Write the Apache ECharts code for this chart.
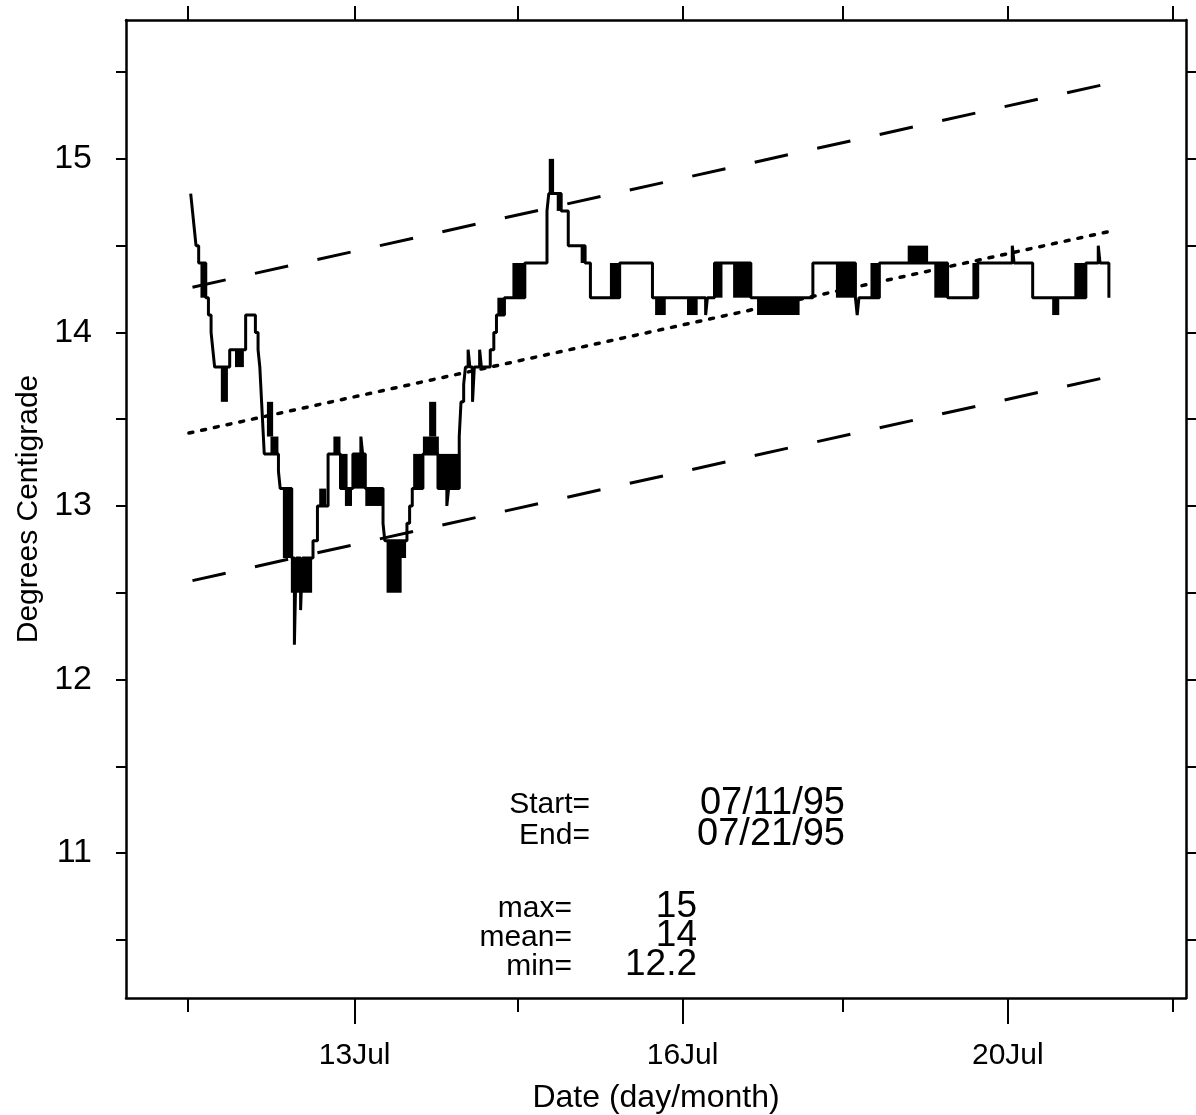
<!DOCTYPE html>
<html>
<head>
<meta charset="utf-8">
<script src="https://cdn.jsdelivr.net/npm/echarts@6/dist/echarts.min.js"></script>
<style>
html,body{margin:0;padding:0;background:#fff;}
#chart{width:1196px;height:1115px;}
</style>
</head>
<body>
<div id="chart"></div>
<script>
// x values: day of July 1995 (decimal), y values: degrees Centigrade
const tempSteps = [
  [11.03,14.8],[11.05,14.7],[11.07,14.6],[11.09,14.5],[11.12,14.4],[11.20,14.2],[11.23,14.1],[11.26,14.0],
  [11.28,13.9],[11.30,13.8],[11.47,13.9],[11.65,14.1],[11.76,14.0],[11.79,13.9],[11.81,13.8],[11.82,13.7],
  [11.83,13.6],[11.84,13.5],[11.85,13.4],[11.86,13.3],[12.02,13.2],[12.04,13.1],[12.17,12.7],[12.20,12.2],
  [12.22,12.7],[12.27,12.4],[12.29,12.7],[12.41,12.8],[12.46,13.0],[12.58,13.3],[12.72,13.1],[12.86,13.3],
  [12.95,13.4],[12.97,13.3],[13.00,13.1],[13.20,12.9],[13.22,12.8],[13.47,12.9],[13.50,13.0],[13.53,13.1],
  [13.65,13.3],[13.82,13.1],[13.92,13.0],[13.94,13.1],[14.06,13.4],[14.08,13.6],[14.11,13.7],[14.13,13.8],
  [14.16,13.9],[14.18,13.8],[14.21,13.6],[14.23,13.8],[14.29,13.9],[14.31,13.8],[14.41,13.9],[14.45,14.0],
  [14.48,14.1],[14.57,14.2],[14.80,14.4],[15.05,14.7],[15.07,14.8],[15.21,14.7],[15.29,14.5],[15.48,14.4],
  [15.54,14.2],[15.87,14.4],[16.24,14.2],[16.84,14.1],[16.86,14.2],[16.94,14.4],[17.35,14.2],[18.05,14.4],
  [18.53,14.2],[18.55,14.1],[18.57,14.2],[18.80,14.4],[19.57,14.2],[19.91,14.4],[20.30,14.5],[20.32,14.4],
  [20.53,14.2],[21.13,14.4],[21.27,14.5],[21.29,14.4],[21.39,14.2]
];
// rapid oscillation bands: [fromDay, toDay, low, high]
const oscBands = [
  [11.14,11.20,14.2,14.4],[11.37,11.45,13.6,13.8],[11.53,11.63,13.8,13.9],[11.89,11.96,13.4,13.6],
  [11.93,12.02,13.3,13.4],[12.07,12.17,12.7,13.1],[12.16,12.40,12.5,12.7],[12.48,12.56,13.0,13.1],
  [12.64,12.72,13.3,13.4],[12.72,12.80,13.1,13.3],[12.77,12.85,13.0,13.1],[12.86,13.00,13.1,13.3],
  [13.00,13.20,13.0,13.1],[13.24,13.41,12.5,12.8],[13.31,13.46,12.7,12.8],[13.54,13.64,13.1,13.3],
  [13.65,13.83,13.3,13.4],[13.72,13.80,13.4,13.6],[13.83,14.07,13.1,13.3],[14.49,14.57,14.1,14.2],
  [14.66,14.80,14.2,14.4],[15.07,15.13,14.8,15.0],[15.16,15.22,14.7,14.8],[15.43,15.48,14.4,14.5],
  [15.76,15.87,14.2,14.4],[16.27,16.39,14.1,14.2],[16.63,16.75,14.1,14.2],[16.94,17.03,14.2,14.4],
  [17.15,17.35,14.2,14.4],[17.42,17.90,14.1,14.2],[18.31,18.53,14.2,14.4],[18.70,18.80,14.2,14.4],
  [19.12,19.35,14.4,14.5],[19.42,19.57,14.2,14.4],[19.85,19.91,14.2,14.4],[20.75,20.83,14.1,14.2],
  [21.00,21.13,14.2,14.4]
];
const trendMid = [[11.01,13.42],[21.38,14.58]];
const trendUpper = [[11.05,14.26],[21.35,15.43]];
const trendLower = [[11.05,12.57],[21.35,13.74]];

const xTickDays = [11.0,12.88,14.72,16.58,18.39,20.25,22.11];
const xLabelDays = [12.88,16.58,20.25];
const xLabelTexts = ['13Jul','16Jul','20Jul'];
const yTickValues = [10.5,11,11.5,12,12.5,13,13.5,14,14.5,15,15.5];
const yLabelValues = [11,12,13,14,15];

const infoLabels = ['Start=','End='];
const infoDates = ['07/11/95','07/21/95'];
const statLabels = ['max=','mean=','min='];
const statValues = ['15','14','12.2'];

const FONT = '"Liberation Sans", Arial, sans-serif';
const chart = echarts.init(document.getElementById('chart'));

function xLabelFor(v){
  for (let i=0;i<xLabelDays.length;i++){ if (Math.abs(xLabelDays[i]-v)<1e-6) return xLabelTexts[i]; }
  return '';
}
const frameLine = {show:true, lineStyle:{color:'#000', width:2.5}};
const X_MIN = 10.3, X_MAX = 22.26, Y_MIN = 10.165, Y_MAX = 15.8;

const graphics = [];
infoLabels.forEach((t,i)=>{
  graphics.push({type:'text', style:{text:t, x:590, y:805+i*31, font:'30px '+FONT, fill:'#000', textAlign:'right', textVerticalAlign:'middle', align:'right', verticalAlign:'middle'}});
  graphics.push({type:'text', style:{text:infoDates[i], x:845, y:804+i*31, font:'38px '+FONT, fill:'#000', textAlign:'right', textVerticalAlign:'middle', align:'right', verticalAlign:'middle'}});
});
statLabels.forEach((t,i)=>{
  graphics.push({type:'text', style:{text:t, x:572, y:909+i*29, font:'30px '+FONT, fill:'#000', textAlign:'right', textVerticalAlign:'middle', align:'right', verticalAlign:'middle'}});
  graphics.push({type:'text', style:{text:statValues[i], x:697, y:907+i*29, font:'37px '+FONT, fill:'#000', textAlign:'right', textVerticalAlign:'middle', align:'right', verticalAlign:'middle'}});
});

chart.setOption({
  animation:false,
  backgroundColor:'#fff',
  grid:{left:126, right:10, top:20, bottom:117, containLabel:false, outerBoundsMode:'none'},
  xAxis:[
    {type:'value', position:'bottom', min:X_MIN, max:X_MAX,
     axisLine:frameLine, splitLine:{show:false},
     axisTick:{show:true, length:14, lineStyle:{color:'#000', width:2}, customValues:xTickDays},
     axisLabel:{show:true, customValues:xLabelDays, formatter:xLabelFor, margin:43, color:'#000', fontSize:30, fontFamily:FONT},
     name:'Date (day/month)', nameLocation:'middle', nameGap:84,
     nameTextStyle:{color:'#000', fontSize:32, fontFamily:FONT}},
    {type:'value', position:'bottom', min:X_MIN, max:X_MAX,
     axisLine:{show:false}, splitLine:{show:false},
     axisTick:{show:true, length:26, lineStyle:{color:'#000', width:2}, customValues:xLabelDays},
     axisLabel:{show:false}},
    {type:'value', position:'top', min:X_MIN, max:X_MAX,
     axisLine:frameLine, splitLine:{show:false},
     axisTick:{show:true, length:14, lineStyle:{color:'#000', width:2}, customValues:xTickDays},
     axisLabel:{show:false}}
  ],
  yAxis:[
    {type:'value', position:'left', min:Y_MIN, max:Y_MAX,
     axisLine:frameLine, splitLine:{show:false},
     axisTick:{show:true, length:10, lineStyle:{color:'#000', width:2}, customValues:yTickValues},
     axisLabel:{show:true, customValues:yLabelValues, margin:34, color:'#000', fontSize:34, fontFamily:FONT},
     name:'Degrees Centigrade', nameLocation:'middle', nameGap:80,
     nameTextStyle:{color:'#000', fontSize:30, fontFamily:FONT}},
    {type:'value', position:'right', min:Y_MIN, max:Y_MAX,
     axisLine:frameLine, splitLine:{show:false},
     axisTick:{show:true, length:14, lineStyle:{color:'#000', width:2}, customValues:yTickValues},
     axisLabel:{show:false}}
  ],
  series:[
    {type:'line', name:'upper', data:trendUpper, symbol:'none', silent:true,
     lineStyle:{color:'#000', width:3, type:[34,30]}},
    {type:'line', name:'lower', data:trendLower, symbol:'none', silent:true,
     lineStyle:{color:'#000', width:3, type:[34,30]}},
    {type:'line', name:'trend', data:trendMid, symbol:'none', silent:true,
     lineStyle:{color:'#000', width:3.5, type:[4,9], cap:'round'}},
    {type:'custom', name:'bands', data:oscBands, encode:{x:[0,1], y:[2,3]}, silent:true,
     renderItem:function(params, api){
       const p0 = api.coord([api.value(0), api.value(3)]);
       const p1 = api.coord([api.value(1), api.value(2)]);
       return {type:'rect', shape:{x:p0[0], y:p0[1], width:Math.max(1,p1[0]-p0[0]), height:p1[1]-p0[1]}, style:{fill:'#000'}};
     }},
    {type:'line', name:'temperature', data:tempSteps, step:'end', symbol:'none', silent:true,
     lineStyle:{color:'#000', width:3}}
  ],
  graphic:graphics
});
</script>
</body>
</html>
